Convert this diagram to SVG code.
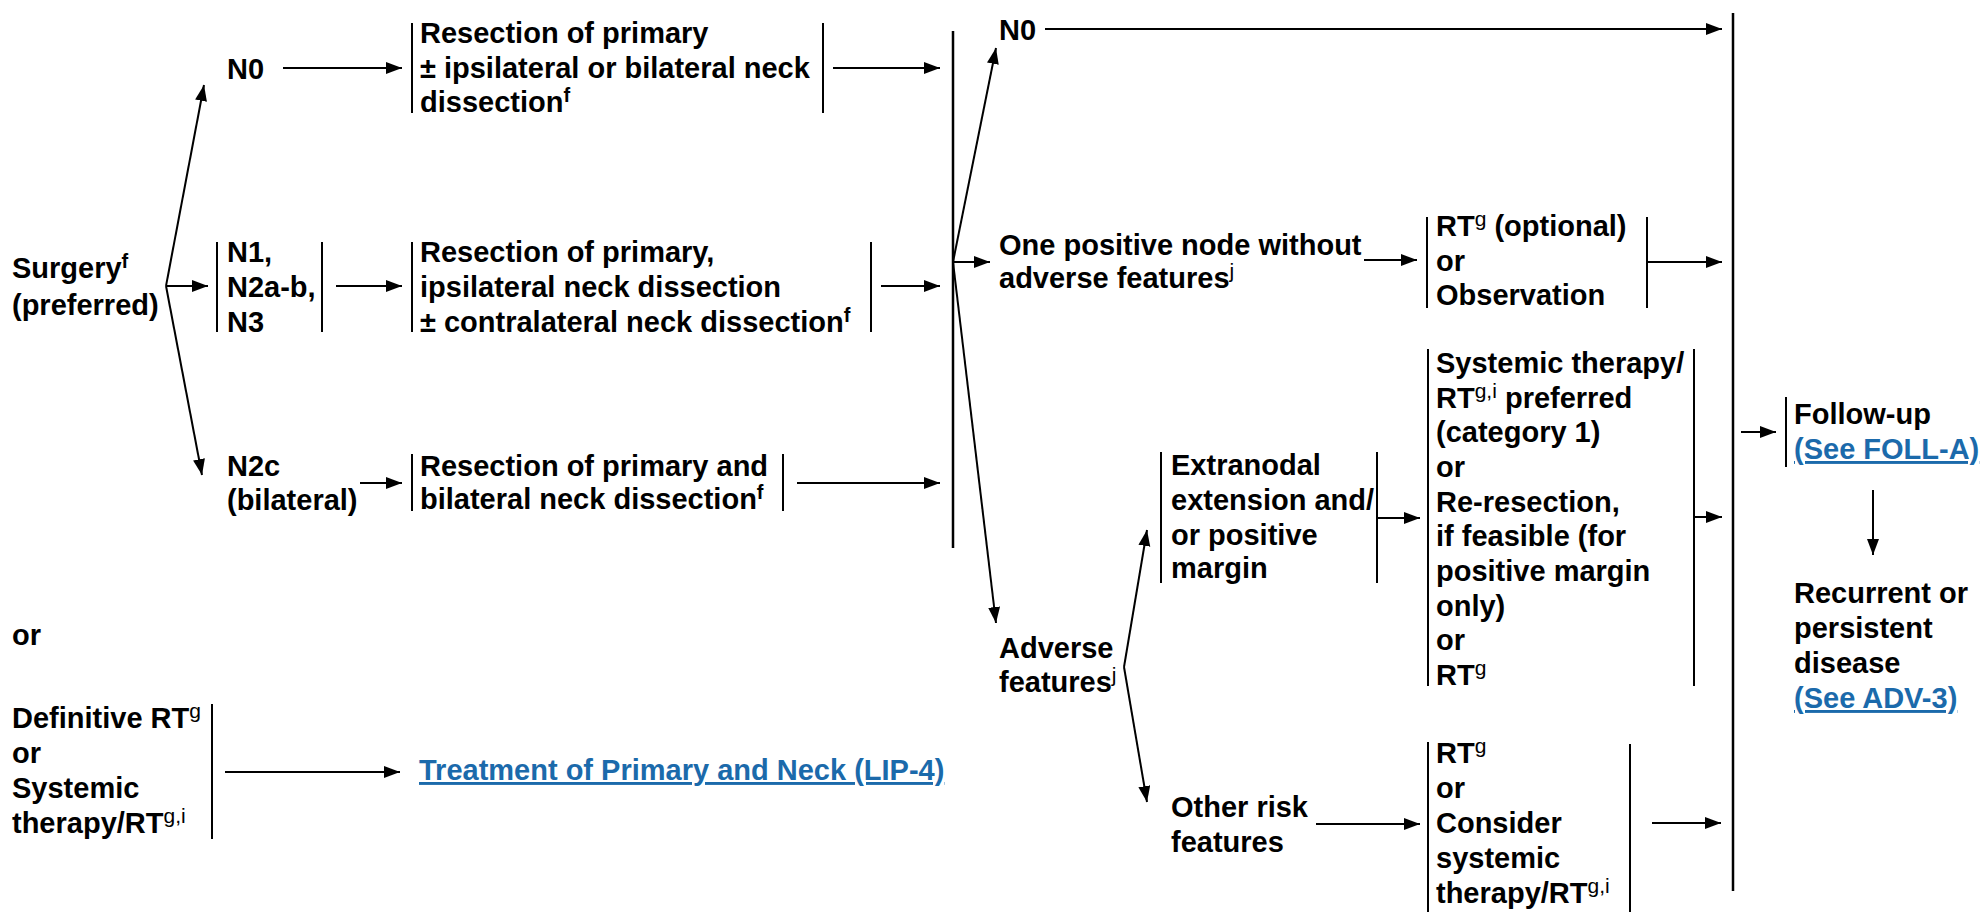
<svg xmlns="http://www.w3.org/2000/svg" width="1982" height="912" viewBox="0 0 1982 912">
  <style>
    text { font-family: "Liberation Sans", Arial, sans-serif; font-size: 29px; font-weight: bold; fill: #000; }
    .sup { font-size: 21px; font-weight: normal; }
    .supb { font-size: 20px; font-weight: bold; }
    .link { fill: #1b6aab; text-decoration: underline; }
    .bar { stroke: #000; stroke-width: 2; fill: none; }
    .big { stroke: #000; stroke-width: 2.5; fill: none; }
    .arr { stroke: #000; stroke-width: 2; fill: none; marker-end: url(#ah); }
  </style>
  <defs>
    <marker id="ah" markerUnits="userSpaceOnUse" markerWidth="17" markerHeight="13" refX="16" refY="6" orient="auto">
      <path d="M0,0 L16,6 L0,12 z" fill="#000"/>
    </marker>
  </defs>
  <rect width="1982" height="912" fill="#fff"/>

  <!-- connectors -->
  <g id="connectors">
    <line class="arr" x1="166" y1="286" x2="204" y2="85"/>
    <line class="arr" x1="166" y1="286" x2="208" y2="286"/>
    <line class="arr" x1="166" y1="286" x2="202" y2="475"/>
    <line class="arr" x1="283" y1="68" x2="402" y2="68"/>
    <line class="arr" x1="336" y1="286" x2="402" y2="286"/>
    <line class="arr" x1="360" y1="483" x2="402" y2="483"/>
    <line class="arr" x1="833" y1="68" x2="940" y2="68"/>
    <line class="arr" x1="881" y1="286" x2="940" y2="286"/>
    <line class="arr" x1="797" y1="483" x2="940" y2="483"/>
    <line class="big" x1="953" y1="31" x2="953" y2="548"/>
    <line class="arr" x1="953" y1="262" x2="996" y2="48"/>
    <line class="arr" x1="953" y1="262" x2="990" y2="262"/>
    <line class="arr" x1="953" y1="262" x2="996" y2="623"/>
    <line class="arr" x1="1045" y1="29" x2="1722" y2="29"/>
    <line class="arr" x1="1364" y1="260" x2="1417" y2="260"/>
    <line class="arr" x1="1647" y1="262" x2="1722" y2="262"/>
    <line class="arr" x1="1124" y1="667" x2="1147" y2="530"/>
    <line class="arr" x1="1124" y1="667" x2="1147" y2="802"/>
    <line class="arr" x1="1377" y1="518" x2="1420" y2="518"/>
    <line class="arr" x1="1694" y1="517" x2="1722" y2="517"/>
    <line class="arr" x1="1316" y1="824" x2="1420" y2="824"/>
    <line class="arr" x1="1652" y1="823" x2="1721" y2="823"/>
    <line class="big" x1="1733" y1="13" x2="1733" y2="891"/>
    <line class="arr" x1="1741" y1="432" x2="1776" y2="432"/>
    <line class="arr" x1="1873" y1="490" x2="1873" y2="555"/>
    <line class="arr" x1="225" y1="772" x2="400" y2="772"/>
  </g>

  <!-- initial treatment -->
  <g id="surgery">
    <text x="12" y="278">Surgery<tspan class="supb" dy="-10">f</tspan></text>
    <text x="12" y="315">(preferred)</text>
  </g>
  <g id="n0-left">
    <text x="227" y="79">N0</text>
  </g>
  <g id="n1-n3">
    <line class="bar" x1="217" y1="242" x2="217" y2="332"/>
    <line class="bar" x1="322" y1="242" x2="322" y2="332"/>
    <text x="227" y="262">N1,</text>
    <text x="227" y="297">N2a-b,</text>
    <text x="227" y="332">N3</text>
  </g>
  <g id="n2c">
    <text x="227" y="476">N2c</text>
    <text x="227" y="510">(bilateral)</text>
  </g>

  <!-- resection options -->
  <g id="resection-n0">
    <line class="bar" x1="412" y1="23" x2="412" y2="113"/>
    <line class="bar" x1="823" y1="23" x2="823" y2="113"/>
    <text x="420" y="43">Resection of primary</text>
    <text x="420" y="78">± ipsilateral or bilateral neck</text>
    <text x="420" y="112">dissection<tspan class="supb" dy="-10">f</tspan></text>
  </g>
  <g id="resection-n1">
    <line class="bar" x1="412" y1="242" x2="412" y2="332"/>
    <line class="bar" x1="871" y1="242" x2="871" y2="332"/>
    <text x="420" y="262">Resection of primary,</text>
    <text x="420" y="297">ipsilateral neck dissection</text>
    <text x="420" y="332">± contralateral neck dissection<tspan class="supb" dy="-10">f</tspan></text>
  </g>
  <g id="resection-n2c">
    <line class="bar" x1="412" y1="454" x2="412" y2="511"/>
    <line class="bar" x1="783" y1="454" x2="783" y2="511"/>
    <text x="420" y="476">Resection of primary and</text>
    <text x="420" y="509">bilateral neck dissection<tspan class="supb" dy="-10">f</tspan></text>
  </g>

  <!-- alternative path -->
  <g id="or-label">
    <text x="12" y="645">or</text>
  </g>
  <g id="definitive-rt">
    <line class="bar" x1="212" y1="704" x2="212" y2="839"/>
    <text x="12" y="728">Definitive RT<tspan class="sup" dy="-10">g</tspan></text>
    <text x="12" y="763">or</text>
    <text x="12" y="798">Systemic</text>
    <text x="12" y="833">therapy/RT<tspan class="sup" dy="-10">g,i</tspan></text>
  </g>
  <g id="lip4">
    <text class="link" x="419" y="780">Treatment of Primary and Neck (LIP-4)</text>
  </g>

  <!-- pathologic findings -->
  <g id="n0-right">
    <text x="999" y="40">N0</text>
  </g>
  <g id="one-positive">
    <text x="999" y="255">One positive node without</text>
    <text x="999" y="288">adverse features<tspan class="sup" dy="-10">j</tspan></text>
  </g>
  <g id="rt-optional">
    <line class="bar" x1="1427" y1="217" x2="1427" y2="308"/>
    <line class="bar" x1="1647" y1="217" x2="1647" y2="308"/>
    <text x="1436" y="236">RT<tspan class="sup" dy="-10">g</tspan><tspan dy="10"> (optional)</tspan></text>
    <text x="1436" y="271">or</text>
    <text x="1436" y="305">Observation</text>
  </g>
  <g id="adverse">
    <text x="999" y="658">Adverse</text>
    <text x="999" y="692">features<tspan class="sup" dy="-10">j</tspan></text>
  </g>
  <g id="extranodal">
    <line class="bar" x1="1161" y1="452" x2="1161" y2="583"/>
    <line class="bar" x1="1377" y1="452" x2="1377" y2="583"/>
    <text x="1171" y="475">Extranodal</text>
    <text x="1171" y="510">extension and/</text>
    <text x="1171" y="545">or positive</text>
    <text x="1171" y="578">margin</text>
  </g>
  <g id="systemic-options">
    <line class="bar" x1="1428" y1="349" x2="1428" y2="686"/>
    <line class="bar" x1="1694" y1="349" x2="1694" y2="686"/>
    <text x="1436" y="373">Systemic therapy/</text>
    <text x="1436" y="408">RT<tspan class="sup" dy="-10">g,i</tspan><tspan dy="10"> preferred</tspan></text>
    <text x="1436" y="442">(category 1)</text>
    <text x="1436" y="477">or</text>
    <text x="1436" y="512">Re-resection,</text>
    <text x="1436" y="546">if feasible (for</text>
    <text x="1436" y="581">positive margin</text>
    <text x="1436" y="616">only)</text>
    <text x="1436" y="650">or</text>
    <text x="1436" y="685">RT<tspan class="sup" dy="-10">g</tspan></text>
  </g>
  <g id="other-risk">
    <text x="1171" y="817">Other risk</text>
    <text x="1171" y="852">features</text>
  </g>
  <g id="rt-consider">
    <line class="bar" x1="1428" y1="742" x2="1428" y2="912"/>
    <line class="bar" x1="1630" y1="744" x2="1630" y2="912"/>
    <text x="1436" y="763">RT<tspan class="sup" dy="-10">g</tspan></text>
    <text x="1436" y="798">or</text>
    <text x="1436" y="833">Consider</text>
    <text x="1436" y="868">systemic</text>
    <text x="1436" y="903">therapy/RT<tspan class="sup" dy="-10">g,i</tspan></text>
  </g>

  <!-- follow-up -->
  <g id="follow-up">
    <line class="bar" x1="1786" y1="397" x2="1786" y2="467"/>
    <text x="1794" y="424">Follow-up</text>
    <text class="link" x="1794" y="459">(See FOLL-A)</text>
  </g>
  <g id="recurrent">
    <text x="1794" y="603">Recurrent or</text>
    <text x="1794" y="638">persistent</text>
    <text x="1794" y="673">disease</text>
    <text class="link" x="1794" y="708">(See ADV-3)</text>
  </g>
</svg>
